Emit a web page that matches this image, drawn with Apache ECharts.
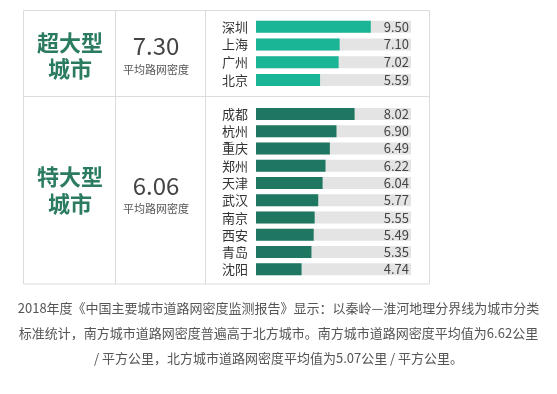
<!DOCTYPE html>
<html><head><meta charset="utf-8">
<script src="https://cdn.jsdelivr.net/npm/echarts@6/dist/echarts.min.js"></script>
<style>html,body{margin:0;padding:0;background:#fff;}#c{width:557px;height:394px;}</style>
</head><body><div id="c"></div>
<script>
const superCities = ['深圳', '上海', '广州', '北京'];
const superValues = [9.50, 7.10, 7.02, 5.59];
const superAvg = '7.30';
const megaCities = ['成都', '杭州', '重庆', '郑州', '天津', '武汉', '南京', '西安', '青岛', '沈阳'];
const megaValues = [8.02, 6.90, 6.49, 6.22, 6.04, 5.77, 5.55, 5.49, 5.35, 4.74];
const megaAvg = '6.06';
const superTitle = '超大型\n城市';
const megaTitle = '特大型\n城市';
const avgLabel = '平均路网密度';
const footerLines = [
  '2018年度《中国主要城市道路网密度监测报告》显示：以秦岭—淮河地理分界线为城市分类',
  '标准统计，南方城市道路网密度普遍高于北方城市。南方城市道路网密度平均值为6.62公里',
  '/ 平方公里，北方城市道路网密度平均值为5.07公里 / 平方公里。'
];

const FONT = '"Noto Sans CJK SC", "Noto Sans", sans-serif';
const chart = echarts.init(document.getElementById('c'), null, {renderer: 'canvas'});

function catAxis(gi, cities) {
  return {type: 'category', gridIndex: gi, data: cities, inverse: true,
    axisLine: {show: false}, axisTick: {show: false}, splitLine: {show: false},
    axisLabel: {color: '#333', fontSize: 13, fontFamily: FONT, margin: 8}};
}
function valLabelAxis(gi, values) {
  return {type: 'category', gridIndex: gi, position: 'right', inverse: true, z: 10,
    data: values.map(v => v.toFixed(2)),
    axisLine: {show: false}, axisTick: {show: false}, splitLine: {show: false},
    axisLabel: {inside: true, color: '#444', fontSize: 13, fontFamily: FONT, margin: 2}};
}
function valAxis(gi, min, max) {
  return {type: 'value', gridIndex: gi, min: min, max: max, show: false,
    splitLine: {show: false}};
}

const lineStyle = {stroke: '#dcdcdc', lineWidth: 1};
const graphic = [
  {type: 'rect', shape: {x: 23.5, y: 10.5, width: 406, height: 273.5}, style: {fill: 'none', stroke: '#dcdcdc', lineWidth: 1}, z: 0},
  {type: 'line', shape: {x1: 115.5, y1: 10.5, x2: 115.5, y2: 284}, style: lineStyle},
  {type: 'line', shape: {x1: 205.5, y1: 10.5, x2: 205.5, y2: 284}, style: lineStyle},
  {type: 'line', shape: {x1: 23.5, y1: 96.5, x2: 429.5, y2: 96.5}, style: lineStyle},
  {type: 'text', style: {text: superTitle, x: 70, y: 56, align: 'center', verticalAlign: 'middle', font: 'bold 22px ' + FONT, lineHeight: 26, fill: '#2a7b5f'}},
  {type: 'text', style: {text: megaTitle, x: 70, y: 190, align: 'center', verticalAlign: 'middle', font: 'bold 22px ' + FONT, lineHeight: 27, fill: '#2a7b5f'}},
  {type: 'text', style: {text: superAvg, x: 156, y: 46, align: 'center', verticalAlign: 'middle', font: '24px ' + FONT, fill: '#444'}},
  {type: 'text', style: {text: avgLabel, x: 156, y: 69.5, align: 'center', verticalAlign: 'middle', font: '11px ' + FONT, fill: '#555'}},
  {type: 'text', style: {text: megaAvg, x: 156, y: 186, align: 'center', verticalAlign: 'middle', font: '24px ' + FONT, fill: '#444'}},
  {type: 'text', style: {text: avgLabel, x: 156, y: 209, align: 'center', verticalAlign: 'middle', font: '11px ' + FONT, fill: '#555'}}
];
const footerY = [308, 333.5, 358.5];
footerLines.forEach((t, i) => {
  graphic.push({type: 'text', style: {text: t, x: 278.5, y: footerY[i], align: 'center', verticalAlign: 'middle', font: '13px ' + FONT, fill: '#555'}});
});

chart.setOption({
  animation: false,
  backgroundColor: '#fff',
  grid: [
    {left: 256, width: 155, top: 17.8, height: 71},
    {left: 256, width: 155, top: 105.4, height: 172.6}
  ],
  xAxis: [valAxis(0, 0.65, 12.6), valAxis(1, 1.92, 11.51)],
  yAxis: [catAxis(0, superCities), valLabelAxis(0, superValues), catAxis(1, megaCities), valLabelAxis(1, megaValues)],
  series: [
    {type: 'bar', xAxisIndex: 0, yAxisIndex: 0, data: superValues, barWidth: 12, clip: true,
      itemStyle: {color: '#1ab596'}, showBackground: true, backgroundStyle: {color: '#e4e4e4'}},
    {type: 'bar', xAxisIndex: 1, yAxisIndex: 2, data: megaValues, barWidth: 12, clip: true,
      itemStyle: {color: '#1f7761'}, showBackground: true, backgroundStyle: {color: '#e4e4e4'}}
  ],
  graphic: graphic
});
</script></body></html>
